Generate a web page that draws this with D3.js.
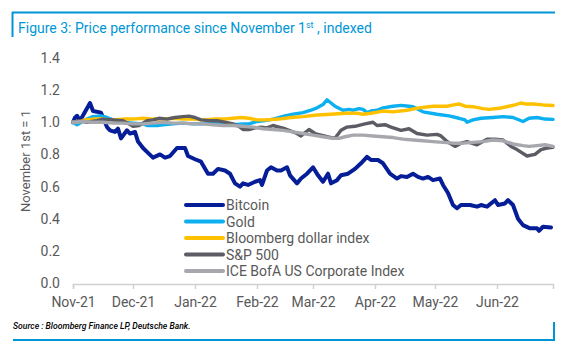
<!DOCTYPE html>
<html>
<head>
<meta charset="utf-8">
<script src="https://cdn.jsdelivr.net/npm/d3@7"></script>
<style>
  body { margin: 0; background: #fff; }
  svg { display: block; font-family: Roboto, "Liberation Sans", Arial, sans-serif; }
</style>
</head>
<body>
<div id="chart"></div>
<script>
// Price performance since November 1st, indexed
// each series: [days since 2021-11-01, index value]
const bitcoin = [[0,1.0],[1,1.03],[2,1.04],[3.5,1.01],[8.5,1.12],[10,1.07],[14,1.06],[17,0.97],[18.5,0.95],[21,0.94],[22.5,0.96],[24,0.90],[27,0.95],[28.5,0.93],[31,0.94],[32.5,0.88],[35,0.84],[37.5,0.81],[40,0.78],[43.5,0.80],[46,0.78],[48.5,0.79],[52,0.84],[56,0.84],[57.5,0.79],[61,0.77],[64,0.755],[67.5,0.68],[70,0.68],[72.5,0.71],[76,0.70],[78.5,0.68],[81,0.62],[83.5,0.60],[85,0.62],[87.5,0.61],[91,0.63],[93.5,0.64],[94.5,0.61],[97,0.70],[99,0.72],[102,0.70],[104,0.70],[107,0.72],[108.5,0.67],[112,0.62],[114,0.65],[117,0.68],[120,0.72],[122.5,0.67],[125,0.63],[127.5,0.68],[129,0.62],[132,0.64],[134,0.67],[137.5,0.68],[141,0.71],[144,0.745],[147,0.785],[149,0.765],[152.5,0.765],[155,0.745],[158.5,0.68],[162,0.65],[164,0.665],[167,0.66],[170,0.68],[172.5,0.66],[175,0.65],[177.5,0.66],[180,0.64],[183.5,0.65],[185,0.61],[187.5,0.56],[190,0.485],[192,0.465],[194,0.485],[198.5,0.485],[202,0.475],[204,0.485],[207,0.475],[211,0.515],[212.5,0.485],[216,0.495],[217.5,0.515],[220,0.485],[222.5,0.40],[225,0.36],[228.5,0.34],[232,0.34],[233,0.325],[235,0.35],[239,0.345]];

const gold = [[0,1.0],[2,0.985],[7,1.02],[10,1.035],[14,1.04],[17,1.03],[21,1.01],[25,1.0],[30,0.995],[35,0.99],[37,0.98],[42,0.98],[45,0.985],[50,0.99],[55,0.995],[60,0.99],[65,0.99],[70,0.995],[75,0.99],[80,0.985],[85,0.99],[88,0.99],[92,1.005],[96,1.01],[100,1.02],[106,1.04],[110,1.05],[115,1.06],[119,1.075],[122,1.09],[125,1.11],[127,1.14],[129,1.12],[131,1.10],[135,1.075],[138,1.08],[140,1.075],[143,1.085],[145,1.08],[147,1.06],[149,1.07],[152,1.075],[155,1.09],[160,1.10],[164,1.105],[168,1.10],[170,1.097],[175,1.065],[182,1.05],[188,1.04],[193,1.025],[196,1.015],[197,1.0],[200,1.015],[204,1.025],[210,1.03],[215,1.035],[220,1.03],[225,1.005],[228,1.025],[232,1.03],[236,1.02],[240,1.018]];

const dollarIndex = [[0,1.0],[3,1.005],[6,1.015],[10,1.02],[15,1.02],[20,1.015],[25,1.02],[30,1.02],[35,1.025],[40,1.02],[45,1.02],[50,1.025],[55,1.02],[60,1.02],[65,1.015],[70,1.02],[75,1.02],[80,1.025],[84,1.03],[88,1.025],[92,1.015],[97,1.015],[103,1.02],[109,1.03],[115,1.035],[122,1.045],[129,1.05],[136,1.056],[142,1.056],[145,1.05],[149,1.056],[153,1.065],[155,1.07],[160,1.065],[167,1.075],[173,1.09],[180,1.10],[187,1.10],[191,1.11],[193,1.114],[196,1.10],[200,1.097],[205,1.085],[208,1.08],[213,1.087],[218,1.10],[221,1.108],[224,1.12],[226,1.114],[230,1.114],[235,1.108],[240,1.104]];

const sp500 = [[0,1.0],[3,1.01],[7,1.0],[12,1.01],[15,1.02],[20,1.015],[25,1.01],[28,0.99],[30,0.975],[33,0.98],[37,1.01],[40,1.015],[43,1.025],[47,1.02],[51,1.03],[55,1.035],[58,1.038],[61,1.03],[64,1.015],[68,1.01],[72,1.01],[76,1.0],[80,0.99],[83,0.975],[85,0.955],[88,0.955],[91,0.965],[94,0.97],[97,0.965],[100,0.98],[103,0.97],[106,0.96],[109,0.945],[112,0.93],[114,0.915],[118,0.955],[121,0.93],[124,0.92],[127,0.91],[131,0.90],[134,0.95],[137,0.97],[141,0.975],[146,0.99],[150,1.0],[152,0.98],[156,0.985],[159,0.97],[164,0.95],[168,0.96],[172,0.93],[177,0.92],[182,0.925],[184,0.915],[187,0.88],[191,0.85],[194,0.87],[197,0.88],[202,0.86],[207,0.895],[211,0.895],[215,0.89],[219,0.85],[222,0.83],[227,0.79],[231,0.80],[234,0.83],[237,0.84],[240,0.845]];

const iceCorp = [[0,1.0],[5,1.005],[10,1.0],[15,1.0],[20,0.995],[25,0.995],[30,0.99],[35,0.99],[40,0.995],[45,1.0],[50,0.995],[55,0.995],[60,0.99],[65,0.99],[70,0.985],[75,0.98],[80,0.98],[85,0.975],[90,0.97],[95,0.96],[100,0.955],[105,0.95],[110,0.94],[115,0.93],[120,0.92],[125,0.91],[130,0.90],[133,0.90],[136,0.91],[140,0.92],[145,0.92],[150,0.915],[155,0.91],[160,0.905],[165,0.895],[170,0.89],[175,0.885],[180,0.88],[185,0.875],[190,0.87],[195,0.87],[200,0.875],[205,0.88],[210,0.89],[215,0.885],[220,0.865],[225,0.855],[228,0.85],[232,0.855],[236,0.86],[240,0.85]];

const seriesNames = ["Bitcoin", "Gold", "Bloomberg dollar index", "S&P 500", "ICE BofA US Corporate Index"];
const seriesColors = ["#061d98", "#0cb0f0", "#ffc000", "#5c5c64", "#a7a7ae"];
const monthLabels = ["Nov-21", "Dec-21", "Jan-22", "Feb-22", "Mar-22", "Apr-22", "May-22", "Jun-22"];
const yTicks = [0, 0.2, 0.4, 0.6, 0.8, 1.0, 1.2, 1.4];

const W = 564, H = 352;
const blue = "#0096d6";
const textGrey = "#595959";

const svg = d3.select("#chart").append("svg")
    .attr("width", W)
    .attr("height", H);

// frame bits
svg.append("line").attr("x1", 12).attr("x2", 555).attr("y1", 12.5).attr("y2", 12.5)
    .attr("stroke", blue).attr("stroke-width", 2);
svg.append("line").attr("x1", 12.5).attr("x2", 12.5).attr("y1", 12).attr("y2", 37)
    .attr("stroke", blue).attr("stroke-width", 2);
svg.append("line").attr("x1", 13).attr("x2", 555).attr("y1", 340).attr("y2", 340)
    .attr("stroke", blue).attr("stroke-width", 2);
svg.append("line").attr("x1", 554).attr("x2", 554).attr("y1", 322).attr("y2", 341)
    .attr("stroke", blue).attr("stroke-width", 2);

// title
const title = svg.append("text")
    .attr("x", 18)
    .attr("y", 33)
    .attr("fill", blue)
    .style("font-size", "14px");
title.append("tspan").text("Figure 3: Price performance since November 1");
title.append("tspan").attr("dy", -5).style("font-size", "9px").text("st");
title.append("tspan").attr("dy", 5).text(" , indexed");

// scales
const start = new Date(2021, 10, 1);
const dayToDate = d => new Date(start.getTime() + d * 864e5);

const x = d3.scaleTime()
    .domain([start, new Date(2022, 5, 29)])
    .range([73, 553]);

const y = d3.scaleLinear()
    .domain([0, 1.4])
    .range([283, 58]);

// x axis
const monthTicks = d3.timeMonth.range(start, new Date(2022, 5, 2));
const xAxis = svg.append("g")
    .attr("transform", "translate(0,284)")
    .call(d3.axisBottom(x)
        .tickValues(monthTicks)
        .tickSize(5)
        .tickPadding(8)
        .tickFormat((d, i) => monthLabels[i]));
xAxis.select(".domain").attr("stroke", "#d0d0d0").attr("stroke-width", 1.5);
xAxis.selectAll(".tick line").attr("stroke", "#d0d0d0").attr("stroke-width", 1.5);
xAxis.selectAll(".tick text")
    .attr("fill", textGrey)
    .style("font-size", "14px")
    .style("font-family", "Roboto, 'Liberation Sans', Arial, sans-serif");

// y axis (labels only)
const yAxis = svg.append("g")
    .attr("transform", "translate(60,0)")
    .call(d3.axisLeft(y)
        .tickValues(yTicks)
        .tickSize(0)
        .tickPadding(0)
        .tickFormat(d3.format(".1f")));
yAxis.select(".domain").remove();
yAxis.selectAll(".tick text")
    .attr("fill", textGrey)
    .style("font-size", "14px")
    .style("font-family", "Roboto, 'Liberation Sans', Arial, sans-serif");

// y label
svg.append("text")
    .attr("transform", "translate(30,161) rotate(-90)")
    .attr("text-anchor", "middle")
    .attr("fill", textGrey)
    .style("font-size", "13px")
    .text("November 1st = 1");

// lines
const line = d3.line()
    .x(d => x(dayToDate(d[0])))
    .y(d => y(d[1]));

const allSeries = [bitcoin, gold, dollarIndex, sp500, iceCorp];
allSeries.forEach((data, i) => {
    svg.append("path")
        .datum(data)
        .attr("fill", "none")
        .attr("stroke", seriesColors[i])
        .attr("stroke-width", i === 0 ? 4 : 3.4)
        .attr("stroke-linejoin", "round")
        .attr("stroke-linecap", "round")
        .attr("d", line);
});

// legend
const legend = svg.append("g").attr("transform", "translate(185,205)");
seriesNames.forEach((name, i) => {
    const row = legend.append("g").attr("transform", `translate(0,${i * 16.5})`);
    row.append("line")
        .attr("x1", 1).attr("x2", 38)
        .attr("y1", 0).attr("y2", 0)
        .attr("stroke", seriesColors[i])
        .attr("stroke-width", 4)
        .attr("stroke-linecap", "round");
    row.append("text")
        .attr("x", 41)
        .attr("y", 5)
        .attr("fill", textGrey)
        .style("font-size", "14px")
        .text(name);
});

// source
svg.append("text")
    .attr("x", 13)
    .attr("y", 329)
    .attr("fill", "#000")
    .style("font-size", "8.6px")
    .style("font-style", "italic")
    .style("font-weight", "500")
    .text("Source : Bloomberg Finance LP, Deutsche Bank.");
</script>
</body>
</html>
